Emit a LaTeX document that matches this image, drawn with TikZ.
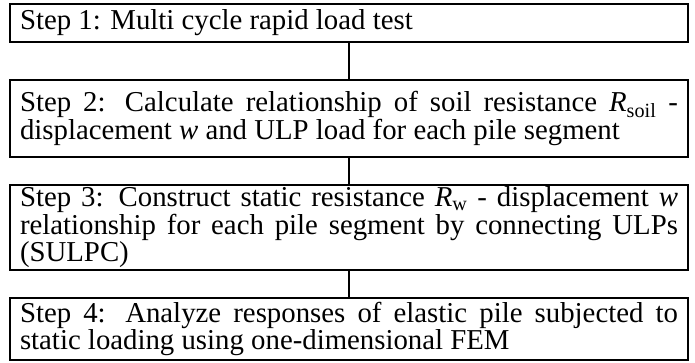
\documentclass[tikz,border=0pt]{standalone}
\usepackage{fontspec}
\setmainfont{Liberation Serif}
\begin{document}
\begin{tikzpicture}[x=1pt,y=-1pt,
  stepbox/.style={draw, line width=2pt, text width=658pt, inner xsep=10pt, inner ysep=0pt,
    align=justify, font=\fontsize{28.8}{27.5}\selectfont, anchor=center},
  link/.style={line width=2pt}]
\useasboundingbox (0,0) rectangle (695,363);
\node[stepbox, minimum height=38pt] (s1) at (349,23) {Step 1: Multi cycle rapid load test};
\node[stepbox, minimum height=77pt] (s2) at (349,118.5) {Step 2: Calculate relationship of soil resistance \textit{R}\textsubscript{soil} -\linebreak displacement \textit{w} and ULP load for each pile segment};
\node[stepbox, minimum height=85pt] (s3) at (349,227.5) {Step 3: Construct static resistance \textit{R}\textsubscript{w} - displacement \textit{w}\linebreak relationship for each pile segment by connecting ULPs\linebreak (SULPC)};
\node[stepbox, minimum height=62pt] (s4) at (349,329) {Step 4: Analyze responses of elastic pile subjected to\linebreak static loading using one-dimensional FEM};
\draw[link] (s1.south) -- (s2.north);
\draw[link] (s2.south) -- (s3.north);
\draw[link] (s3.south) -- (s4.north);
\end{tikzpicture}
\end{document}
